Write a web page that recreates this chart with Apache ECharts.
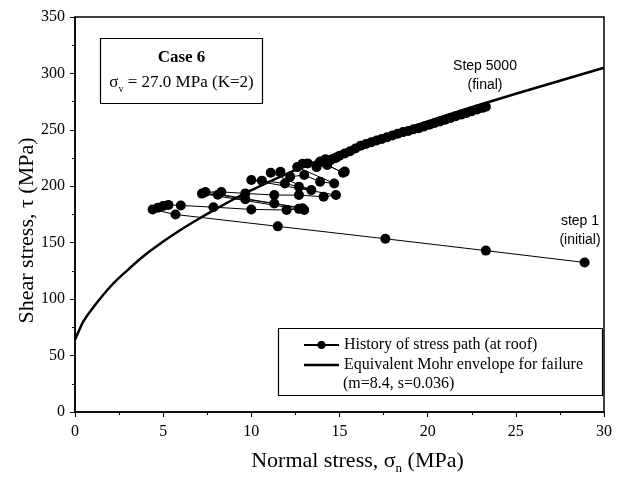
<!DOCTYPE html>
<html><head><meta charset="utf-8">
<script src="https://cdn.jsdelivr.net/npm/echarts@6/dist/echarts.min.js"></script>
<style>html,body{margin:0;padding:0;background:#fff}#c{width:627px;height:479px}</style>
</head><body><div id="c"></div>
<script>
// Stress path history (normal stress, shear stress), step 1 -> step 5000
const pathX = [28.9,23.3,17.6,11.5,5.7,4.4,4.7,5.0,5.3,
  6.0,7.85,10.0,12.0,12.7,13.0,
  7.2,8.1,9.66,11.3,12.9,
  7.4,8.3,9.66,11.3,12.7,14.1,14.8,
  10.0,10.6,11.9,12.7,13.4,
  11.1,11.65,12.2,13.0,13.9,14.7,
  12.6,12.9,13.2,13.7,14.3,15.2,15.3,
  13.9,14.2,14.5,14.8,
  15.0,15.3,15.6,15.9,16.2,16.5,16.8,17.1,17.4,17.7,18.0,18.3,18.6,18.9,19.2,19.5,19.8,20.1,20.4,20.7,21.0,21.3,21.6,21.9,22.2,22.5,22.8,23.1,23.3];
const pathY = [132.5,143,153.5,164.5,175,179.5,181,182.5,183.5,
  183,181.5,179.5,179,180,179,
  193.5,192.5,188.5,184.8,180.5,
  195,195,193.7,192.2,192.2,190.7,192.2,
  205.5,205,202.5,199.6,196.6,
  212,212.8,208.4,210,204,202.5,
  217,220,220.3,217,218.8,212,213,
  222,224,223,225,
  227,229,231,233.5,236,237.5,239,240.5,242,243.5,245,246.5,248,249,250.5,251.5,253,254.5,256,257.5,259,260.5,262,263.5,265,266.5,268,269.5,270.5];
// Equivalent Mohr envelope
const envX = [0,0.25,0.5,1,2,3,4,5,6,7,8,9,10,12,14,16,18,20,22.5,25,27.5,30];
const envY = [64,73,81,92,111,126,139.5,151,161.5,171,180,188.5,196.5,211,224,236,247,257.5,270,282,293.5,305];
const xTicks = {min:0,max:30,interval:5};
const yTicks = {min:0,max:350,interval:50};
const seriesNames = ['History of stress path (at roof)','Equivalent Mohr envelope for failure'];

const serif = 'Liberation Serif';
const sans = 'Liberation Sans';
const chart = echarts.init(document.getElementById('c'));
const zip = (a,b)=>a.map((v,i)=>[v,b[i]]);
chart.setOption({
  animation:false,
  backgroundColor:'#fff',
  grid:{left:75,right:23,top:17,bottom:67,show:true,borderColor:'#000',borderWidth:1.5,
    containLabel:false,outerBoundsMode:'none'},
  xAxis:{type:'value',min:xTicks.min,max:xTicks.max,interval:xTicks.interval,
    name:'Normal stress, σ{s|n} (MPa)',nameLocation:'middle',nameGap:35,nameMoveOverlap:false,
    nameTextStyle:{fontFamily:serif,fontSize:22,color:'#000',padding:[0,0,0,36],
      rich:{s:{fontFamily:serif,fontSize:13,color:'#000',padding:[15,0,0,0]}}},
    axisLine:{lineStyle:{color:'#000',width:1.5}},
    axisTick:{inside:false,length:5,lineStyle:{color:'#000'}},
    minorTick:{show:true,splitNumber:2,length:3,lineStyle:{color:'#000'}},
    splitLine:{show:false},
    axisLabel:{fontFamily:serif,fontSize:16,color:'#000',margin:12}},
  yAxis:{type:'value',min:yTicks.min,max:yTicks.max,interval:yTicks.interval,
    name:'Shear stress, τ (MPa)',nameLocation:'middle',nameGap:37,nameMoveOverlap:false,
    nameTextStyle:{fontFamily:serif,fontSize:22,color:'#000',padding:[0,32,0,0]},
    axisLine:{show:true,lineStyle:{color:'#000',width:1.5}},
    axisTick:{show:true,inside:false,length:5,lineStyle:{color:'#000'}},
    minorTick:{show:true,splitNumber:2,length:3,lineStyle:{color:'#000'}},
    splitLine:{show:false},
    axisLabel:{fontFamily:serif,fontSize:16,color:'#000',margin:10}},
  legend:{orient:'vertical',left:303,top:337,padding:0,itemWidth:35,itemHeight:10,itemGap:4,itemTextGap:5,
    textStyle:{fontFamily:serif,fontSize:16,color:'#000'},
    data:[{name:seriesNames[0]},
          {name:seriesNames[1],icon:'path://M0,0M0,3.8L35,3.8L35,6.2L0,6.2ZM35,10'}]},
  series:[
    {name:seriesNames[1],type:'line',data:zip(envX,envY),smooth:0.4,symbol:'none',
      lineStyle:{color:'#000',width:2.5},itemStyle:{color:'#000'},z:2},
    {name:seriesNames[0],type:'line',data:zip(pathX,pathY),symbol:'circle',symbolSize:10,
      lineStyle:{color:'#000',width:1},itemStyle:{color:'#000'},z:3}
  ],
  graphic:[
    {type:'rect',shape:{x:100.5,y:38.5,width:162,height:65},style:{fill:'#fff',stroke:'#000',lineWidth:1.2},z:10},
    {type:'text',x:181.5,y:58,style:{text:'Case 6',fontFamily:serif,fontSize:17,fontWeight:'bold',fill:'#000',align:'center',verticalAlign:'middle'},z:11},
    {type:'text',x:181.5,y:83,style:{text:'{a|σ}{s|v}{a| = 27.0 MPa (K=2)}',align:'center',verticalAlign:'middle',
      rich:{a:{fontFamily:serif,fontSize:17,fill:'#000'},s:{fontFamily:serif,fontSize:10,fill:'#000',padding:[12,0,0,0]}}},z:11},
    {type:'rect',shape:{x:278.5,y:328.5,width:324,height:67},style:{fill:'none',stroke:'#000',lineWidth:1.2},z:10},
    {type:'text',x:343,y:384,style:{text:'(m=8.4, s=0.036)',fontFamily:serif,fontSize:16,fill:'#000',verticalAlign:'middle'},z:11},
    {type:'text',x:485,y:66,style:{text:'Step 5000',fontFamily:sans,fontSize:14,fill:'#000',align:'center',verticalAlign:'middle'},z:11},
    {type:'text',x:485,y:85,style:{text:'(final)',fontFamily:sans,fontSize:14,fill:'#000',align:'center',verticalAlign:'middle'},z:11},
    {type:'text',x:580,y:221,style:{text:'step 1',fontFamily:sans,fontSize:14,fill:'#000',align:'center',verticalAlign:'middle'},z:11},
    {type:'text',x:580,y:240,style:{text:'(initial)',fontFamily:sans,fontSize:14,fill:'#000',align:'center',verticalAlign:'middle'},z:11}
  ]
});
</script></body></html>
